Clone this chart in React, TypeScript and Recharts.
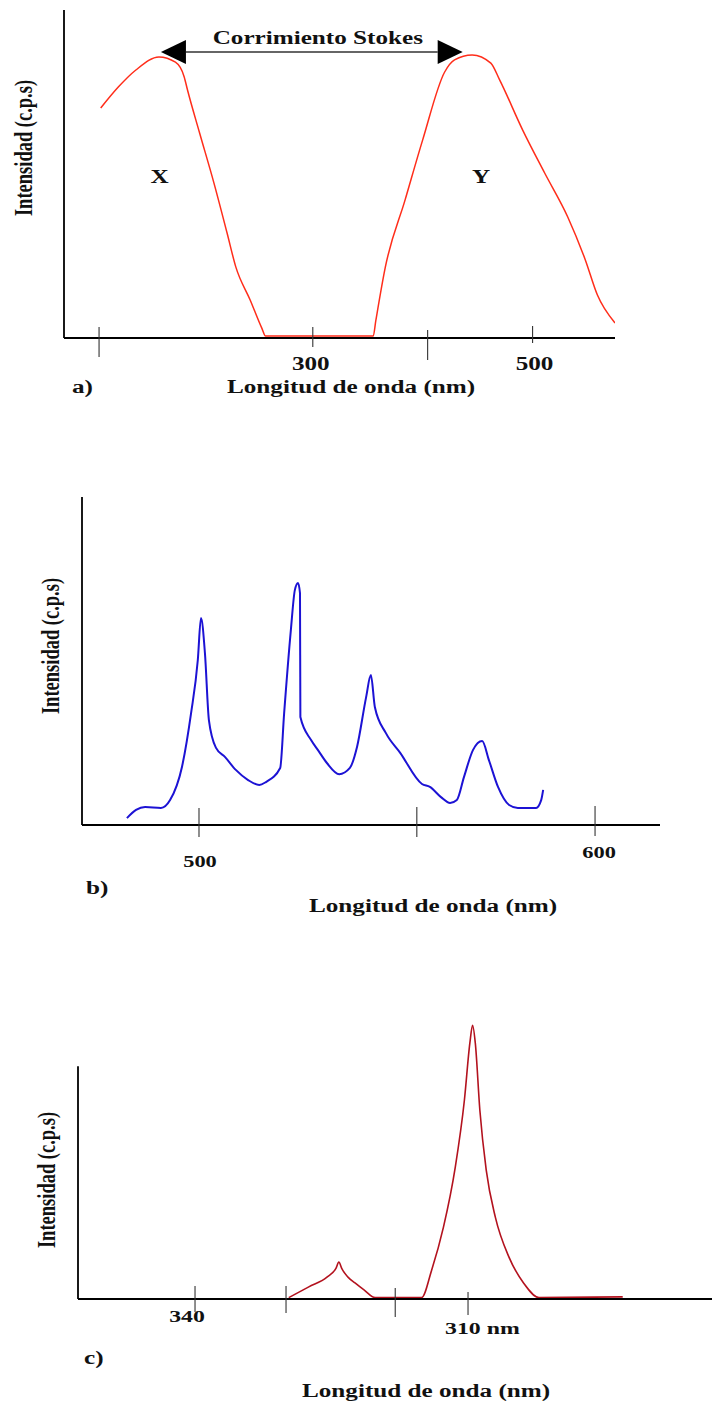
import React from "react";
import { LineChart, Line, XAxis, YAxis, ReferenceLine, ReferenceDot } from "recharts";

const FONT = '"Liberation Serif", "Times New Roman", serif';
// the source figure is stretched horizontally, glyphs included
const STRETCH = 1.36;

// a) excitation / emission with the Stokes shift
const aWavelength = [107, 123, 139, 160, 175, 183, 186, 197, 210, 222, 230, 243, 253.6, 257, 355, 357.3, 366, 384, 400, 420, 429, 445, 462, 470, 491, 511, 532, 548, 559, 575];
const aIntensity = [70.1, 76.5, 81.7, 85.7, 84.1, 79.6, 75.6, 62.5, 47.3, 32.0, 21.6, 11.6, 3.0, 0.6, 0.6, 5.2, 21.6, 42.1, 60.4, 81.1, 84.8, 86.3, 83.8, 78.7, 63.4, 50.3, 36.9, 23.8, 13.1, 4.6];
const aTicks = [105.5, 300, 404.5, 500];
const aTickLabels: Record<string, string> = { 300: "300", 500: "500" };
const stokesFrom = 161.8;
const stokesTo = 436.4;
const stokesLevel = 87.2;
const peakLetters = [
  { name: "X", wavelength: 160.5, intensity: 47.3 },
  { name: "Y", wavelength: 453.2, intensity: 47.3 },
];

// b) emission spectrum, four bands
const bWavelength = [481.8, 484.1, 486.4, 490.4, 492.7, 495.7, 498.0, 499.7, 500.5, 501.5, 502.5, 504.3, 506.6, 509.3, 512.4, 515.2, 516.9, 520.5, 521.5, 523.2, 524.2, 525.0, 525.5, 525.6, 528.3, 530.0, 532.3, 535.4, 538.1, 539.9, 542.2, 543.4, 544.4, 547.2, 550.8, 556.3, 558.3, 561.1, 563.4, 565.1, 566.9, 569.2, 571.5, 573.2, 575.5, 578.3, 580.5, 582.8, 585.1, 586.4, 586.9];
const bIntensity = [2.1, 4.6, 5.5, 5.2, 7.6, 17.7, 34.1, 50.3, 63.1, 52.4, 32.0, 23.5, 20.7, 16.8, 13.7, 12.2, 13.1, 17.4, 34.1, 59.5, 71.6, 73.8, 70.7, 32.9, 25.9, 22.9, 18.9, 15.5, 17.4, 23.8, 39.0, 45.7, 36.0, 28.0, 22.0, 12.5, 11.6, 8.5, 6.7, 7.6, 14.6, 22.9, 25.6, 19.8, 11.6, 6.1, 5.2, 5.2, 5.2, 7.6, 10.7];
const bTicks = [500, 555, 600];
const bTickLabels: Record<string, string> = { 500: "500", 600: "600" };

// c) reversed wavelength axis, 340 -> 310 nm
const cWavelength = [329.7, 327.5, 325.5, 324.5, 324.2, 323.85, 323.19, 322.42, 321.43, 320.2, 315.1, 314.0, 312.7, 311.4, 310.4, 309.8, 309.5, 309.2, 308.7, 308.0, 307.0, 305.5, 303.9, 302.2, 293.0];
const cIntensity = [0.6, 5.2, 9.4, 13.3, 15.9, 12.9, 9.4, 6.9, 3.9, 0.6, 0.6, 12.4, 30.9, 56.7, 85.4, 109.9, 117.6, 109.9, 81.1, 55.4, 35.2, 18.0, 6.9, 0.6, 0.9];
const cTicks = [340, 330, 318, 310];
const cTickLabels: Record<string, string> = { 340: "340", 310: "310 nm" };

const toRows = (xs: number[], ys: number[]) => xs.map((w, i) => ({ w, v: ys[i] }));

function SText({ x, y, size = 18.5, anchor = "start", children }: any) {
  return (
    <g transform={`translate(${x},${y}) scale(${STRETCH},1)`}>
      <text x={0} y={0} textAnchor={anchor} fontFamily={FONT} fontWeight="bold" fontSize={size} fill="#111">
        {children}
      </text>
    </g>
  );
}

function VText({ x, y, size = 18.5, children }: any) {
  return (
    <g transform={`translate(${x},${y}) scale(${STRETCH},1) rotate(-90)`}>
      <text x={0} y={0} textAnchor="middle" fontFamily={FONT} fontWeight="bold" fontSize={size} fill="#111">
        {children}
      </text>
    </g>
  );
}

// tick mark crossing the axis + optional label
const makeTick =
  (labels: Record<string, string>, marks: Record<string, number[]>, offsets: Record<string, number[]>, size: number, anchors: Record<string, string> = {}) =>
  (props: any) => {
    const { x, y, payload } = props;
    const key = String(payload.value);
    const [up, down] = marks[key] ?? [12, 14];
    const text = labels[key];
    const [dx, dy] = offsets[key] ?? [0, 32];
    return (
      <g>
        <line x1={x} x2={x} y1={y - up} y2={y + down} stroke="#333" strokeWidth={1.1} />
        {text && (
          <SText x={x + dx} y={y + dy} size={size} anchor={anchors[key] ?? "middle"}>
            {text}
          </SText>
        )}
      </g>
    );
  };

function PanelTitles({ letter, letterX, letterY, titleX, titleY, yTitleX, yTitleY }: any) {
  return (
    <g>
      <SText x={letterX} y={letterY}>{letter}</SText>
      <SText x={titleX} y={titleY}>Longitud de onda (nm)</SText>
      <VText x={yTitleX} y={yTitleY}>Intensidad (c.p.s)</VText>
    </g>
  );
}

const StokesArrow = (props: any) => {
  const { x1, y1, x2, y2 } = props;
  const head = 25;
  const half = 12;
  return (
    <g>
      <line x1={x1 + head} y1={y1} x2={x2 - head} y2={y2} stroke="#333" strokeWidth={1.6} />
      <polygon points={`${x1},${y1} ${x1 + head},${y1 - half} ${x1 + head},${y1 + half}`} fill="#000" />
      <polygon points={`${x2},${y2} ${x2 - head},${y2 - half} ${x2 - head},${y2 + half}`} fill="#000" />
      <SText x={(x1 + x2) / 2 + 6} y={y1 - 8} anchor="middle">Corrimiento Stokes</SText>
    </g>
  );
};

const axisLine = { stroke: "#000", strokeWidth: 1.8 };

function PanelA() {
  const tick = makeTick(
    aTickLabels,
    { 105.5: [11, 19], 300: [11, 9], 404.5: [8, 22], 500: [12, 5] },
    { 300: [-2, 32], 500: [2, 32] },
    18.5
  );
  return (
    <LineChart width={712} height={430} data={toRows(aWavelength, aIntensity)} margin={{ top: 10, right: 97, left: 44, bottom: 52 }}>
      <XAxis
        dataKey="w"
        type="number"
        domain={[73.6, 575]}
        allowDataOverflow
        ticks={aTicks}
        interval={0}
        tick={tick}
        tickLine={false}
        tickSize={0}
        tickMargin={0}
        axisLine={axisLine}
        height={40}
        label={{
          content: () => (
            <PanelTitles letter="a)" letterX={72} letterY={393} titleX={227} titleY={393} yTitleX={32} yTitleY={148} />
          ),
        }}
      />
      <YAxis domain={[0, 100]} allowDataOverflow tick={false} tickLine={false} axisLine={axisLine} width={20} />
      <ReferenceLine
        segment={[
          { x: stokesFrom, y: stokesLevel },
          { x: stokesTo, y: stokesLevel },
        ]}
        ifOverflow="visible"
        shape={StokesArrow}
      />
      {peakLetters.map((p) => (
        <ReferenceDot
          key={p.name}
          x={p.wavelength}
          y={p.intensity}
          r={0}
          ifOverflow="visible"
          shape={(s: any) => (
            <SText x={s.cx} y={s.cy} anchor="middle">
              {p.name}
            </SText>
          )}
        />
      ))}
      <Line type="monotone" dataKey="v" stroke="#ff2d1a" strokeWidth={1.5} dot={false} isAnimationActive={false} />
    </LineChart>
  );
}

function PanelB() {
  const tick = makeTick(
    bTickLabels,
    { 500: [17, 12], 555: [18, 12], 600: [19, 11] },
    { 500: [1, 42], 600: [4, 33] },
    16.5
  );
  return (
    <LineChart width={712} height={505} data={toRows(bWavelength, bIntensity)} margin={{ top: 67, right: 52, left: 62, bottom: 70 }}>
      <XAxis
        dataKey="w"
        type="number"
        domain={[470.46, 616.4]}
        allowDataOverflow
        ticks={bTicks}
        interval={0}
        tick={tick}
        tickLine={false}
        tickSize={0}
        tickMargin={0}
        axisLine={axisLine}
        height={40}
        label={{
          content: () => (
            <PanelTitles letter="b)" letterX={86} letterY={464} titleX={309} titleY={482} yTitleX={59} yTitleY={216} />
          ),
        }}
      />
      <YAxis domain={[0, 100]} allowDataOverflow tick={false} tickLine={false} axisLine={axisLine} width={20} />
      <Line type="monotone" dataKey="v" stroke="#1c12d4" strokeWidth={2} dot={false} isAnimationActive={false} />
    </LineChart>
  );
}

function PanelC() {
  const tick = makeTick(
    cTickLabels,
    { 340: [13, 13], 330: [13, 14], 318: [11, 18], 310: [7, 16] },
    { 340: [-8, 23], 310: [-23, 35] },
    17.5,
    { 310: "start" }
  );
  return (
    <LineChart width={712} height={469} data={toRows(cWavelength, cIntensity)} margin={{ top: 87, right: 0, left: 78, bottom: 65 }}>
      <XAxis
        dataKey="w"
        type="number"
        domain={[283.19, 352.86]}
        reversed
        allowDataOverflow
        ticks={cTicks}
        interval={0}
        tick={tick}
        tickLine={false}
        tickSize={0}
        tickMargin={0}
        axisLine={axisLine}
        height={40}
        label={{
          content: () => (
            <PanelTitles letter="c)" letterX={84} letterY={429} titleX={302} titleY={462} yTitleX={55} yTitleY={245} />
          ),
        }}
      />
      <YAxis hide domain={[0, 119]} allowDataOverflow />
      {/* the big band rises above the drawn y-axis, so the axis is a segment */}
      <ReferenceLine
        segment={[
          { x: 352.86, y: 0 },
          { x: 352.86, y: 100 },
        ]}
        ifOverflow="visible"
        stroke="#000"
        strokeWidth={1.8}
      />
      <Line type="monotone" dataKey="v" stroke="#b3121e" strokeWidth={1.6} dot={false} isAnimationActive={false} />
    </LineChart>
  );
}

export default function App() {
  return (
    <div style={{ position: "absolute", left: 0, top: 0, width: 712, height: 1404, background: "#fff" }}>
      <PanelA />
      <PanelB />
      <PanelC />
    </div>
  );
}
